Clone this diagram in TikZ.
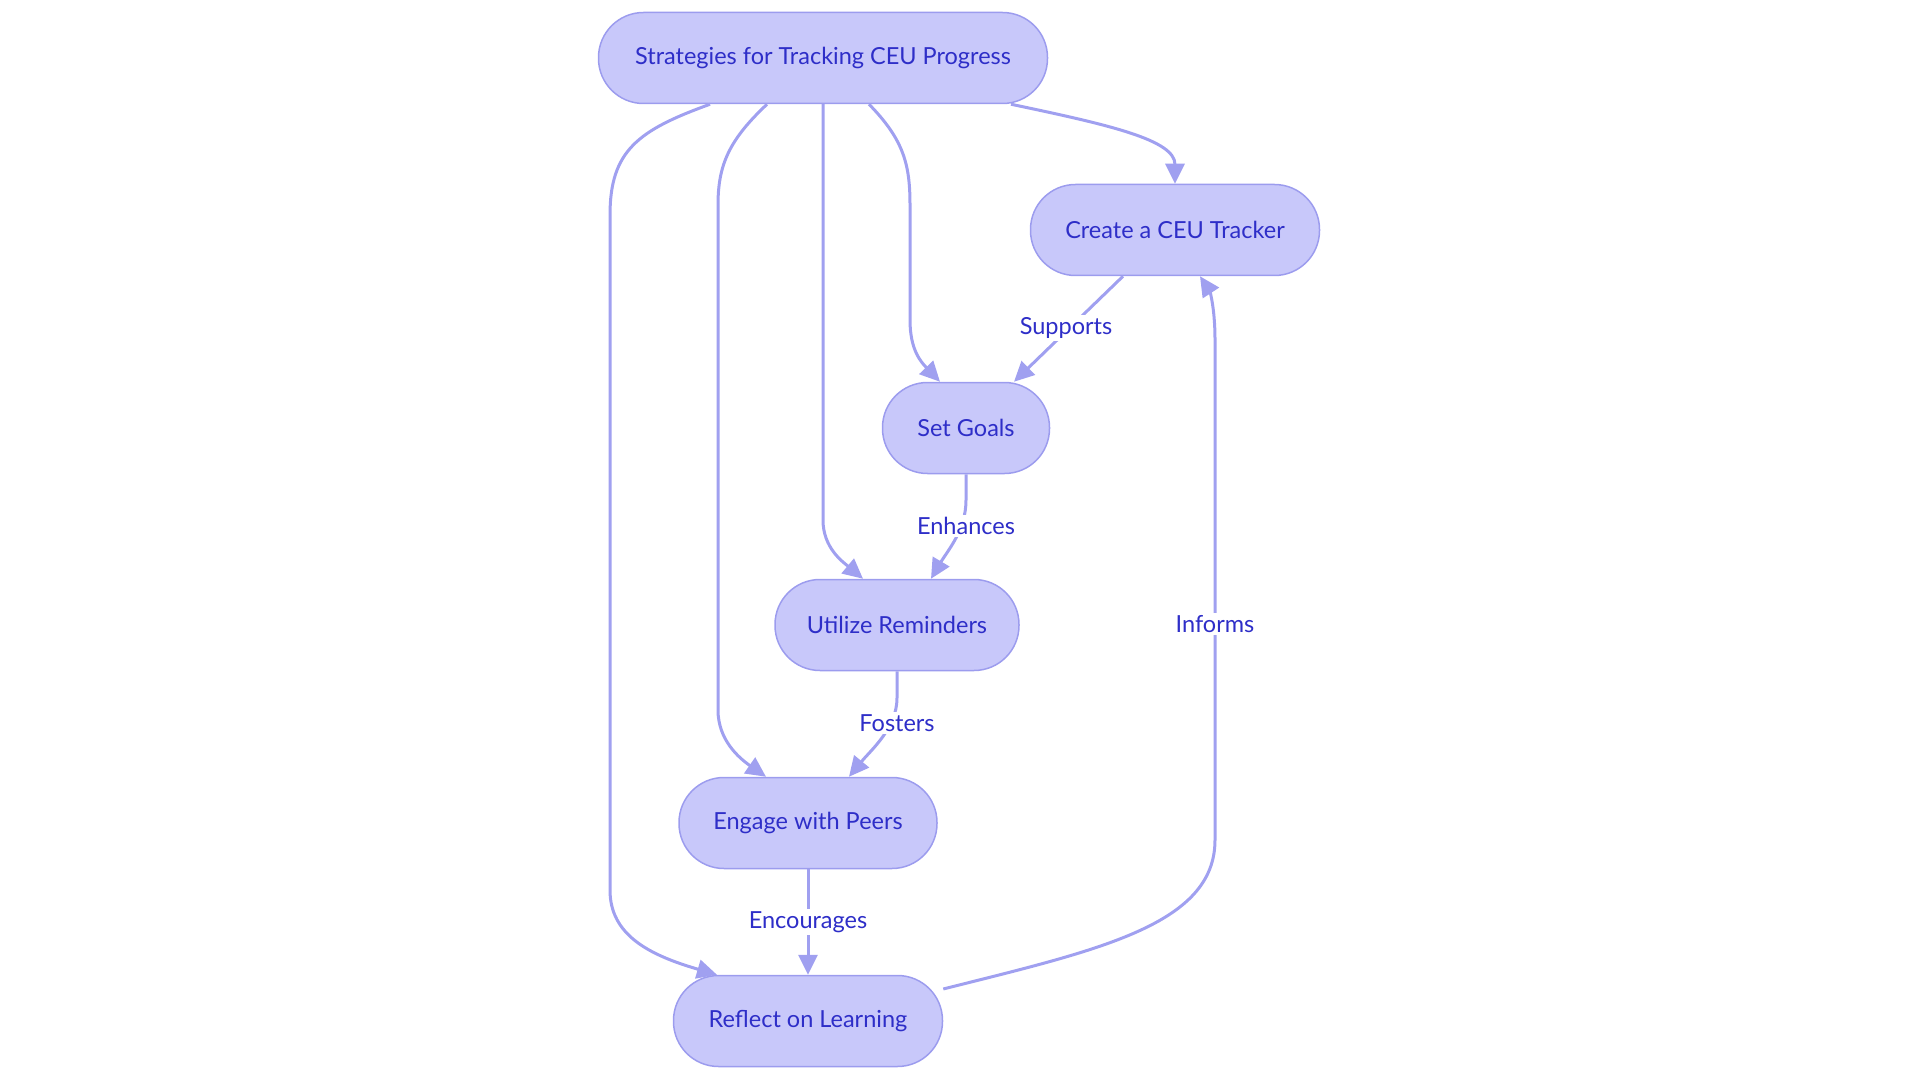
\documentclass[tikz,border=0pt]{standalone}
\usepackage{fontspec}
\setmainfont{Lato}
\usetikzlibrary{arrows.meta}
\definecolor{nfill}{HTML}{C8C8FA}
\definecolor{nborder}{HTML}{9C9CEE}
\definecolor{ecol}{HTML}{A0A0F0}
\definecolor{tcol}{HTML}{2E2EC8}
\tikzset{
  box/.style={draw=nborder, line width=1.5pt, fill=nfill, rounded corners=45pt,
    minimum height=91pt, inner sep=0pt, text=tcol, font=\fontsize{23.5}{28}\selectfont},
  conn/.style={draw=ecol, line width=3pt, -{Triangle[length=20pt,width=19pt]}},
  lbl/.style={fill=white, text=tcol, inner sep=2pt, font=\fontsize{23.5}{28}\selectfont}
}
\begin{document}
\begin{tikzpicture}[x=1pt,y=-1pt]
\useasboundingbox (0,0) rectangle (1920,1083);
\node[box, minimum width=449pt] (s) at (823,58) {Strategies for Tracking CEU Progress};
\node[box, minimum width=289pt] (c) at (1175,230) {Create a CEU Tracker};
\node[box, minimum width=167pt] (g) at (966,428) {Set Goals};
\node[box, minimum width=244pt] (u) at (897,625) {Utilize Reminders};
\node[box, minimum width=258pt] (e) at (808,823) {Engage with Peers};
\node[box, minimum width=269pt] (r) at (808,1021) {Reflect on Learning};

% from Strategies
\draw[conn] ([xshift=188pt]s.south) .. controls (1110,125) and (1175,140) .. (c.north);
\draw[conn] ([xshift=46pt]s.south) .. controls (904,140) and (910,165) .. (910,205)
  -- (910,320) .. controls (910,350) and (921,362) .. ([xshift=-26pt]g.north);
\draw[conn] (s.south) -- (823,520) .. controls (823,548) and (843,562) .. ([xshift=-34pt]u.north);
\draw[conn] ([xshift=-56pt]s.south) .. controls (729,140) and (718,165) .. (718,205)
  -- (718,710) .. controls (718,740) and (739,758) .. ([xshift=-42pt]e.north);
\draw[conn] ([xshift=-113pt]s.south) .. controls (639,130) and (610,150) .. (610,215)
  -- (610,890) .. controls (610,935) and (649,955) .. ([xshift=-91pt]r.north);

% chain
\draw[conn] ([xshift=-52pt]c.south) -- ([xshift=48pt]g.north);
\node[lbl] (l1) at (1066,328) {Supports};
\draw[conn] (g.south) -- (966,500) .. controls (966,530) and (948,550) .. ([xshift=34pt]u.north);
\node[lbl] (l2) at (966,526) {Enhances};
\draw[conn] (u.south) -- (897,698) .. controls (897,728) and (871,750) .. ([xshift=41pt]e.north);
\node[lbl] (l3) at (897,723) {Fosters};
\draw[conn] (e.south) -- (r.north);
\node[lbl] (l4) at (808,922) {Encourages};
\draw[conn] ([yshift=32pt]r.east) .. controls (1098,950) and (1215,925) .. (1215,840)
  -- (1215,340) .. controls (1215,305) and (1209,290) .. ([xshift=25pt]c.south);
\node[lbl] (l5) at (1215,624) {Informs};
\end{tikzpicture}
\end{document}
